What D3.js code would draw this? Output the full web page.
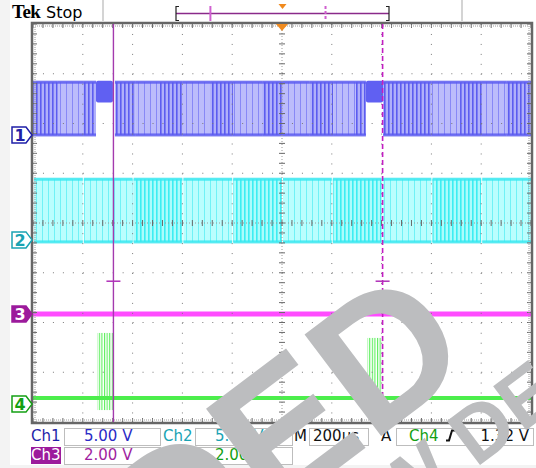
<!DOCTYPE html>
<html>
<head>
<meta charset="utf-8">
<script src="https://cdn.jsdelivr.net/npm/d3@7"></script>
<style>
body { margin: 0; background: #fff; }
svg { display: block; font-family: "DejaVu Sans", sans-serif; }
</style>
</head>
<body>
<svg id="scope" width="536" height="468"></svg>
<script>
// time in µs (200 µs/div, trigger at centre), vertical position in divisions
var timeDomain = [-1000, 1000];
var divDomain = [-4, 4];

// ch1: [start, end, kind] bursts of switching, and spans where it stays high
var ch1Bursts = [
	[-1000, -900, 'dense'], [-900, -799, 'light'], [-799, -747, 'dense'],
	[-671, -590, 'dense'], [-590, -490, 'light'], [-490, -398, 'dense'],
	[-398, -289, 'light'], [-289, -197, 'dense'], [-197, -80, 'light'],
	[-80, 4, 'dense'], [4, 112, 'light'], [112, 205, 'dense'],
	[205, 297, 'light'], [297, 337, 'dense'],
	[406, 602, 'dense'], [602, 715, 'light'], [715, 803, 'dense'],
	[803, 900, 'light'], [900, 1000, 'dense']
];
var ch1Stalls = [[-747, -679], [337, 406]];
var ch1Low = 1.77, ch1High = 2.83, ch1StallLow = 2.42;

var ch2Bursts = [
	[-1000, -800, 'light'], [-800, -600, 'light'], [-600, -400, 'dense'],
	[-400, -200, 'light'], [-200, 0, 'dense'], [0, 200, 'light'],
	[200, 400, 'dense'], [400, 600, 'light'], [600, 800, 'dense'],
	[800, 1000, 'light']
];
var ch2Low = -0.38, ch2High = 0.88;

var ch3Level = -1.83;

var ch4Level = -3.52;
var ch4Bursts = [[-743, -679, -2.21], [343, 402, -2.31]];
var ch4BurstDip = -3.76;

// channel ground markers
var markers = [
	{ ch: '1', level: 1.77 },
	{ ch: '2', level: -0.34 },
	{ ch: '3', level: -1.83 },
	{ ch: '4', level: -3.64 }
];

var cursors = [{ t: -677, dashed: false }, { t: 404, dashed: true }];
var cursorTick = -1.17;
var triggerLevel = -2.91;

var readRow1 = [
	{ label: 'Ch1', value: '5.00 V', col: '#1f1fa8', valCol: '#2a2ac6' },
	{ label: 'Ch2', value: '5.00 V', col: '#1aa3b3', valCol: '#1aa3b3' }
];
var readRow2 = [
	{ label: 'Ch3', value: '2.00 V', col: '#fff', valCol: '#a01ea0' },
	{ label: 'Ch4', value: '2.00 V', col: '#14a014', valCol: '#14a014' }
];
var timebase = '200µs';
var trigSource = 'Ch4', trigValue = '1.32 V';

var svg = d3.select('#scope');
var x = d3.scaleLinear().domain(timeDomain).range([33, 531]);
var y = d3.scaleLinear().domain(divDomain).range([422, 24]);
var recX = d3.scaleLinear().domain(timeDomain).range([176, 389]);

var colors = {
	ch1: { fill: '#b0b0fa', line: '#5c5cf0', lightFill: '#bcbcfb', lightLine: '#8888f6', edge: '#5a5af0' },
	ch2: { fill: '#acfcfc', line: '#3ceef2', lightFill: '#bafefe', lightLine: '#70f2f6', edge: '#38e8f0' }
};

// stripe patterns used to paint the switching bursts
var defs = svg.append('defs');
function stripe(id, w, fill, line, lw) {
	var p = defs.append('pattern')
		.attr('id', id)
		.attr('width', w).attr('height', 10)
		.attr('patternUnits', 'userSpaceOnUse');
	if (fill) p.append('rect').attr('width', w).attr('height', 10).attr('fill', fill);
	p.append('rect').attr('width', lw).attr('height', 10).attr('fill', line);
}
stripe('ch1-dense', 4, colors.ch1.fill, colors.ch1.line, 1.6);
stripe('ch1-light', 6, colors.ch1.lightFill, colors.ch1.lightLine, 1);
stripe('ch2-dense', 4, colors.ch2.fill, colors.ch2.line, 1.6);
stripe('ch2-light', 6, colors.ch2.lightFill, colors.ch2.lightLine, 1);
stripe('ch4-burst', 2.6, null, '#5cee5c', 1.1);

// page edges
svg.append('rect').attr('x', 0).attr('y', 0).attr('width', 10).attr('height', 468).attr('fill', '#f3f3f3');
svg.append('rect').attr('x', 0).attr('y', 465).attr('width', 536).attr('height', 3).attr('fill', '#f3f3f3');

// header
svg.append('text').attr('x', 12).attr('y', 18)
	.style('font-family', '"Liberation Serif", serif')
	.style('font-weight', 'bold').style('font-size', '19px')
	.style('letter-spacing', '-0.5px')
	.text('Tek');
svg.append('text').attr('x', 46).attr('y', 18)
	.style('font-size', '16px')
	.text('Stop');
[103, 462].forEach(function(sx) {
	svg.append('line').attr('x1', sx).attr('x2', sx).attr('y1', 0).attr('y2', 21)
		.attr('stroke', '#d4d4d4').attr('stroke-width', 2);
});
var rec = svg.append('g');
rec.append('line').attr('x1', recX(-1000)).attr('x2', recX(1000)).attr('y1', 13.5).attr('y2', 13.5)
	.attr('stroke', '#8a2a8a').attr('stroke-width', 1.5);
rec.append('path')
	.attr('d', 'M' + (recX(-1000) + 3) + ',6.5 h-3 v14 h3 M' + (recX(1000) - 3) + ',6.5 h3 v14 h-3')
	.attr('fill', 'none').attr('stroke', '#222').attr('stroke-width', 1.2);
cursors.forEach(function(c) {
	rec.append('line').attr('x1', recX(c.t)).attr('x2', recX(c.t)).attr('y1', 6).attr('y2', 21)
		.attr('stroke', '#d060d0').attr('stroke-width', 2)
		.attr('stroke-dasharray', c.dashed ? '3,2' : null);
});
rec.append('path')
	.attr('d', 'M' + (recX(0) - 4) + ',4 h8 l-4,5 z')
	.attr('fill', '#f08a1e');

// traces
var traces = svg.append('g');

function drawBursts(data, ch, low, high, gap) {
	var g = traces.append('g');
	g.selectAll('rect.burst')
		.data(data).enter().append('rect')
		.attr('class', 'burst')
		.attr('x', function(d) { return x(d[0]) + (gap ? 1 : 0); })
		.attr('width', function(d) { return x(d[1]) - x(d[0]) - (gap ? 1 : 0); })
		.attr('y', y(high))
		.attr('height', y(low) - y(high))
		.attr('fill', function(d) { return 'url(#' + ch + '-' + d[2] + ')'; });
	// ragged top and bottom edges of the pulses
	[high, low].forEach(function(lv) {
		g.selectAll(null)
			.data(data).enter().append('rect')
			.attr('x', function(d) { return x(d[0]) + (gap ? 1 : 0); })
			.attr('width', function(d) { return x(d[1]) - x(d[0]) - (gap ? 1 : 0); })
			.attr('y', y(lv) - 1.5)
			.attr('height', 3)
			.attr('fill', colors[ch].edge)
			.attr('opacity', 0.85);
	});
}

drawBursts(ch1Bursts, 'ch1', ch1Low, ch1High, false);
traces.selectAll('rect.stall')
	.data(ch1Stalls).enter().append('rect')
	.attr('class', 'stall')
	.attr('x', function(d) { return x(d[0]); })
	.attr('width', function(d) { return x(d[1]) - x(d[0]); })
	.attr('y', y(ch1High) - 1.5)
	.attr('height', y(ch1StallLow) - y(ch1High) + 1.5)
	.attr('rx', 2)
	.attr('fill', '#6060f2');

drawBursts(ch2Bursts, 'ch2', ch2Low, ch2High, true);

traces.append('line')
	.attr('x1', x(timeDomain[0])).attr('x2', x(timeDomain[1]))
	.attr('y1', y(ch3Level)).attr('y2', y(ch3Level))
	.attr('stroke', '#ff4cff').attr('stroke-width', 5);

traces.selectAll('rect.ch4b')
	.data(ch4Bursts).enter().append('rect')
	.attr('class', 'ch4b')
	.attr('x', function(d) { return x(d[0]); })
	.attr('width', function(d) { return x(d[1]) - x(d[0]); })
	.attr('y', function(d) { return y(d[2]); })
	.attr('height', function(d) { return y(ch4BurstDip) - y(d[2]); })
	.attr('fill', 'url(#ch4-burst)');
traces.append('line')
	.attr('x1', x(timeDomain[0])).attr('x2', x(timeDomain[1]))
	.attr('y1', y(ch4Level)).attr('y2', y(ch4Level))
	.attr('stroke', '#4cee4c').attr('stroke-width', 4);

// graticule
var grid = svg.append('g');
var minor = (x(200) - x(0)) / 5;
var majorT = d3.range(-800, 1000, 200);
var majorV = d3.range(-3, 4, 1);

grid.selectAll('line.vx')
	.data(majorT.filter(function(t) { return t !== 0; }))
	.enter().append('line')
	.attr('x1', function(t) { return x(t); }).attr('x2', function(t) { return x(t); })
	.attr('y1', y(4)).attr('y2', y(-4))
	.attr('stroke', '#7a7a7a').attr('stroke-dasharray', '1,' + (minor - 1));
grid.selectAll('line.hy')
	.data(majorV.filter(function(v) { return v !== 0; }))
	.enter().append('line')
	.attr('y1', function(v) { return y(v); }).attr('y2', function(v) { return y(v); })
	.attr('x1', x(-1000)).attr('x2', x(1000))
	.attr('stroke', '#7a7a7a').attr('stroke-dasharray', '1,' + (minor - 1));

// centre lines with minor ticks
grid.append('line').attr('x1', x(0)).attr('x2', x(0)).attr('y1', y(4)).attr('y2', y(-4))
	.attr('stroke', '#9a9a9a').attr('stroke-dasharray', '1,2');
grid.append('line').attr('y1', y(0)).attr('y2', y(0)).attr('x1', x(-1000)).attr('x2', x(1000))
	.attr('stroke', '#9a9a9a').attr('stroke-dasharray', '1,2');
var minorT = d3.range(-1000, 1001, 40);
var minorV = d3.range(-4, 4.01, 0.2);
grid.selectAll('line.tx').data(minorT).enter().append('line')
	.attr('x1', function(t) { return x(t); }).attr('x2', function(t) { return x(t); })
	.attr('y1', y(0) - 3).attr('y2', y(0) + 3)
	.attr('stroke', '#6a6a6a');
grid.selectAll('line.ty').data(minorV).enter().append('line')
	.attr('y1', function(v) { return y(v); }).attr('y2', function(v) { return y(v); })
	.attr('x1', x(0) - 3).attr('x2', x(0) + 3)
	.attr('stroke', '#6a6a6a');

// border ticks
grid.selectAll('line.bt').data(minorT).enter().append('line')
	.attr('x1', function(t) { return x(t); }).attr('x2', function(t) { return x(t); })
	.attr('y1', y(4)).attr('y2', y(4) + 4)
	.attr('stroke', '#6a6a6a');
grid.selectAll('line.bb').data(minorT).enter().append('line')
	.attr('x1', function(t) { return x(t); }).attr('x2', function(t) { return x(t); })
	.attr('y1', y(-4) - 4).attr('y2', y(-4))
	.attr('stroke', '#6a6a6a');
grid.selectAll('line.bl').data(minorV).enter().append('line')
	.attr('y1', function(v) { return y(v); }).attr('y2', function(v) { return y(v); })
	.attr('x1', x(-1000)).attr('x2', x(-1000) + 4)
	.attr('stroke', '#6a6a6a');
grid.selectAll('line.br').data(minorV).enter().append('line')
	.attr('y1', function(v) { return y(v); }).attr('y2', function(v) { return y(v); })
	.attr('x1', x(1000) - 4).attr('x2', x(1000))
	.attr('stroke', '#6a6a6a');
grid.append('rect')
	.attr('x', x(-1000) + 2).attr('y', y(4) + 2)
	.attr('width', x(1000) - x(-1000) - 4).attr('height', y(-4) - y(4) - 4)
	.attr('fill', 'none').attr('stroke', '#9a9a9a').attr('stroke-dasharray', '1,1');
grid.append('rect')
	.attr('x', x(-1000) - 1).attr('y', y(4) - 1)
	.attr('width', x(1000) - x(-1000) + 2).attr('height', y(-4) - y(4) + 2)
	.attr('fill', 'none').attr('stroke', '#666').attr('stroke-width', 2.5);

// cursors
cursors.forEach(function(c) {
	svg.append('line')
		.attr('x1', x(c.t)).attr('x2', x(c.t)).attr('y1', y(4)).attr('y2', y(-4))
		.attr('stroke', c.dashed ? '#c21ec2' : '#a43aae')
		.attr('stroke-width', c.dashed ? 1.6 : 1.4)
		.attr('stroke-dasharray', c.dashed ? '5,3' : null);
	svg.append('line')
		.attr('x1', x(c.t) - 7).attr('x2', x(c.t) + 7)
		.attr('y1', y(cursorTick)).attr('y2', y(cursorTick))
		.attr('stroke', '#b030b8').attr('stroke-width', 1.5);
});

// trigger position and level
svg.append('path')
	.attr('d', 'M' + (x(0) - 6) + ',' + y(4) + ' h12 l-6,7 z')
	.attr('fill', '#f08a1e');
svg.append('path')
	.attr('d', 'M' + (x(1000) - 11) + ',' + (y(triggerLevel) + 0.5) + ' l7,-6 v6 z')
	.attr('fill', '#169a16');
svg.append('line')
	.attr('x1', x(1000) - 4).attr('x2', x(1000))
	.attr('y1', y(triggerLevel)).attr('y2', y(triggerLevel))
	.attr('stroke', '#169a16').attr('stroke-width', 1.5);

// channel markers
var markerStyle = {
	'1': { stroke: '#1f1fa8', fill: '#fff', text: '#1f1fa8' },
	'2': { stroke: '#1aa3b3', fill: '#fff', text: '#1aa3b3' },
	'3': { stroke: '#9c1b9c', fill: '#9c1b9c', text: '#fff' },
	'4': { stroke: '#14a014', fill: '#fff', text: '#14a014' }
};
var mk = svg.selectAll('g.marker').data(markers).enter().append('g')
	.attr('class', 'marker')
	.attr('transform', function(d) { return 'translate(0,' + y(d.level) + ')'; });
mk.append('path')
	.attr('d', 'M12,-8 H26 L32,0 L26,8 H12 Z')
	.attr('fill', function(d) { return markerStyle[d.ch].fill; })
	.attr('stroke', function(d) { return markerStyle[d.ch].stroke; })
	.attr('stroke-width', 1.5);
mk.append('text')
	.attr('x', 20).attr('y', 6)
	.attr('text-anchor', 'middle')
	.style('font-size', '16px').style('font-weight', 'bold')
	.attr('fill', function(d) { return markerStyle[d.ch].text; })
	.text(function(d) { return d.ch; });

// readout
var ro = svg.append('g').style('font-size', '15px');
function box(bx, by, bw) {
	ro.append('rect').attr('x', bx + 0.5).attr('y', by + 0.5).attr('width', bw).attr('height', 17)
		.attr('fill', '#fff').attr('stroke', '#bdbdbd');
}
box(64, 428, 96); box(195, 428, 97); box(309, 428, 59); box(396, 428, 137);
box(64, 447, 96); box(195, 447, 97);
ro.append('rect').attr('x', 31).attr('y', 447).attr('width', 30).attr('height', 17).attr('fill', '#9c1b9c');
[[readRow1, 441], [readRow2, 460]].forEach(function(row) {
	row[0].forEach(function(d, i) {
		ro.append('text').attr('x', i === 0 ? 31 : 163).attr('y', row[1]).attr('fill', d.col).text(d.label);
		ro.append('text').attr('x', i === 0 ? 84 : 215).attr('y', row[1]).attr('fill', d.valCol).text(d.value);
	});
});
ro.append('text').attr('x', 294).attr('y', 441).attr('fill', '#111').text('M');
ro.append('text').attr('x', 313).attr('y', 441).attr('fill', '#111').text(timebase);
ro.append('text').attr('x', 381).attr('y', 441).attr('fill', '#111').text('A');
ro.append('text').attr('x', 409).attr('y', 441).attr('fill', '#14a014').text(trigSource);
ro.append('path').attr('d', 'M446,440.5 h3 l3,-10 h4')
	.attr('fill', 'none').attr('stroke', '#111').attr('stroke-width', 2);
ro.append('text').attr('x', 529).attr('y', 441).attr('text-anchor', 'end').attr('fill', '#111').text(trigValue);

// datasheet watermark
var wm = svg.append('g')
	.style('font-family', '"Liberation Sans", Arial, sans-serif')
	.style('font-weight', 'bold')
	.attr('fill', '#bcbdbf');
wm.append('text')
	.attr('transform', 'translate(478,363) rotate(-37)')
	.attr('text-anchor', 'end')
	.style('font-size', '185px')
	.text('NOT RECOMMENDED');
wm.append('text')
	.attr('transform', 'translate(309,594) rotate(-37)')
	.style('font-size', '80px')
	.text('NEW DESIGNS');
</script>
</body>
</html>
